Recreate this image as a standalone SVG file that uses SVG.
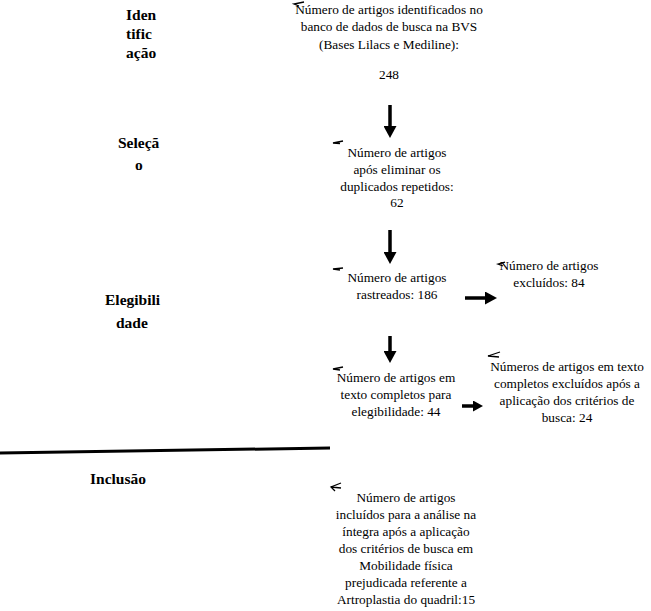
<svg xmlns="http://www.w3.org/2000/svg" width="651" height="611" viewBox="0 0 651 611">
<style>
text{font-family:"Liberation Serif","Times New Roman","DejaVu Serif",serif}
.t{font-size:13.3px;fill:#000;text-anchor:middle}
.h{font-size:15.5px;font-weight:bold;fill:#000}
.mk{fill:none;stroke:#000;stroke-width:1.3}
.ar{stroke:#000;stroke-width:3.5;fill:none}
</style>
<defs>
<marker id="ah" markerWidth="12" markerHeight="13" refX="1" refY="6.5" orient="auto" markerUnits="userSpaceOnUse">
<path d="M0,0 L12,6.5 L0,13 Z" fill="#000"/>
</marker>
<marker id="ahs" markerWidth="10" markerHeight="11" refX="1" refY="5.5" orient="auto" markerUnits="userSpaceOnUse">
<path d="M0,0 L10,5.5 L0,11 Z" fill="#000"/>
</marker>
</defs>
<rect width="651" height="611" fill="#fff"/>
<g id="labels">
<text class="h" x="126" y="20">Iden</text>
<text class="h" x="126" y="39">tific</text>
<text class="h" x="126" y="58">ação</text>
<text class="h" x="118" y="148">Seleçã</text>
<text class="h" x="135" y="170">o</text>
<text class="h" x="105" y="305">Elegibili</text>
<text class="h" x="116" y="328">dade</text>
<text class="h" x="90" y="484">Inclusão</text>
</g>
<g id="connectors">
<line class="ar" x1="390" y1="105" x2="390" y2="127" marker-end="url(#ah)"/>
<line class="ar" x1="390" y1="230" x2="390" y2="253" marker-end="url(#ah)"/>
<line class="ar" x1="390" y1="336" x2="390" y2="352" marker-end="url(#ah)"/>
<line class="ar" x1="465" y1="298" x2="486" y2="298" marker-end="url(#ah)"/>
<line class="ar" x1="462" y1="406" x2="474" y2="406" marker-end="url(#ahs)"/>
<line x1="0" y1="453" x2="330" y2="448" stroke="#000" stroke-width="3"/>
</g>
<g id="n1">
<path class="mk" d="M304,2 L294,4 L299,6"/>
<text class="t" x="389" y="14">Número de artigos identificados no</text>
<text class="t" x="389" y="31">banco de dados de busca na BVS</text>
<text class="t" x="389" y="49">(Bases Lilacs e Mediline):</text>
<text class="t" x="389" y="79">248</text>
</g>
<g id="n2">
<path class="mk" d="M343,141 L333,143 L340,143.5"/>
<text class="t" x="397" y="157">Número de artigos</text>
<text class="t" x="397" y="174">após eliminar os</text>
<text class="t" x="397" y="191">duplicados repetidos:</text>
<text class="t" x="397" y="207">62</text>
</g>
<g id="n3">
<path class="mk" d="M343,268 L333,269 L340,270"/>
<text class="t" x="397" y="282">Número de artigos</text>
<text class="t" x="397" y="299">rastreados: 186</text>
</g>
<g id="n4">
<path class="mk" d="M505,262 L498,264 L503,266"/>
<text class="t" x="549" y="270">Número de artigos</text>
<text class="t" x="549" y="287">excluídos: 84</text>
</g>
<g id="n5">
<path class="mk" d="M343,367 L333,369 L340,370"/>
<text class="t" x="396" y="382">Número de artigos em</text>
<text class="t" x="396" y="399">texto completos para</text>
<text class="t" x="396" y="416">elegibilidade: 44</text>
</g>
<g id="n6">
<path class="mk" d="M500,352 L488,356 L499,357"/>
<text class="t" x="567" y="371">Números de artigos em texto</text>
<text class="t" x="567" y="388">completos excluídos após a</text>
<text class="t" x="567" y="405">aplicação dos critérios de</text>
<text class="t" x="567" y="422">busca: 24</text>
</g>
<g id="n7">
<path class="mk" d="M341,483 L331,487 L335,491 M331,487 L341,488"/>
<text class="t" x="406" y="502">Número de artigos</text>
<text class="t" x="406" y="519">incluídos para a análise na</text>
<text class="t" x="406" y="536">íntegra após a aplicação</text>
<text class="t" x="406" y="553">dos critérios de busca em</text>
<text class="t" x="406" y="570">Mobilidade física</text>
<text class="t" x="406" y="587">prejudicada referente a</text>
<text class="t" x="406" y="604">Artroplastia do quadril:15</text>
</g>
</svg>
